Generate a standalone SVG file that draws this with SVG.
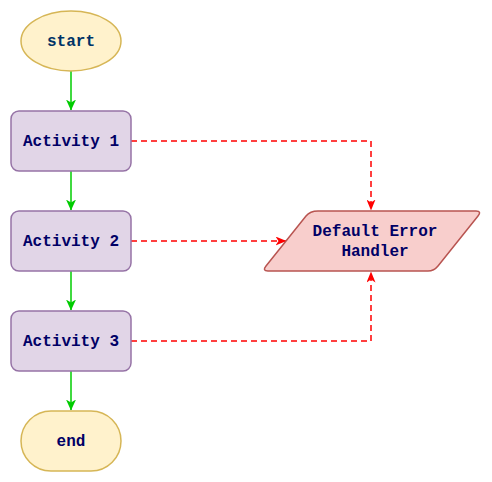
<svg xmlns="http://www.w3.org/2000/svg" width="492" height="482" viewBox="0 0 492 482">
<defs>
<marker id="ag" viewBox="0 0 11 10" refX="10.5" refY="5" markerWidth="11" markerHeight="10" markerUnits="userSpaceOnUse" orient="auto"><path d="M0,0 L11,5 L0,10 L3,5 Z" fill="#00CC00"/></marker>
<marker id="ar" viewBox="0 0 11 9" refX="10.5" refY="4.5" markerWidth="11" markerHeight="9" markerUnits="userSpaceOnUse" orient="auto"><path d="M0,0 L11,4.5 L0,9 L3,4.5 Z" fill="#FF0000"/></marker>
<style>
.t{font-family:"Liberation Mono","Courier New",monospace;font-weight:bold;font-size:16px;fill:#000066;text-anchor:middle;dominant-baseline:central}
.term{fill:#fff2cc;stroke:#d6b656;stroke-width:1.5}
.act{fill:#e1d5e7;stroke:#9673a6;stroke-width:1.5}
.err{fill:#f8cecc;stroke:#b85450;stroke-width:1.5}
.g{fill:none;stroke:#00CC00;stroke-width:1.5;marker-end:url(#ag)}
.r{fill:none;stroke:#FF0000;stroke-width:1.5;stroke-dasharray:6 4;marker-end:url(#ar)}
</style>
</defs>
<g id="connectors">
<path class="g" d="M71,71 L71,110"/>
<path class="g" d="M71,171 L71,210"/>
<path class="g" d="M71,271 L71,310"/>
<path class="g" d="M71,371 L71,410"/>
<path class="r" d="M131,141 L371,141 L371,210"/>
<path class="r" d="M131,241 L286,241"/>
<path class="r" d="M131,341 L371,341 L371,272"/>
</g>
<g id="start"><ellipse class="term" cx="71" cy="41" rx="50" ry="30"/><text class="t" x="71" y="42" style="fill:#003366">start</text></g>
<g id="activity1"><rect class="act" x="11" y="111" width="120" height="60" rx="8"/><text class="t" x="71" y="142">Activity 1</text></g>
<g id="activity2"><rect class="act" x="11" y="211" width="120" height="60" rx="8"/><text class="t" x="71" y="242">Activity 2</text></g>
<g id="activity3"><rect class="act" x="11" y="311" width="120" height="60" rx="8"/><text class="t" x="71" y="342">Activity 3</text></g>
<g id="end"><rect class="term" x="21" y="411" width="100" height="60" rx="30"/><text class="t" x="71" y="442">end</text></g>
<g id="error"><path class="err" d="M318,211 L476,211 Q482,211 478,216 L438,266 Q434,271 428,271 L268,271 Q262,271 266,266 L306,216 Q310,211 318,211 Z"/><text class="t" x="375" y="232">Default Error</text><text class="t" x="375" y="252">Handler</text></g>
</svg>
